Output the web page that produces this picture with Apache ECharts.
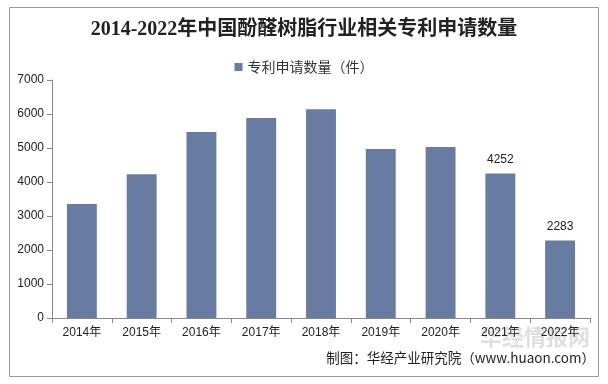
<!DOCTYPE html>
<html><head><meta charset="utf-8">
<script src="https://cdn.jsdelivr.net/npm/echarts@6/dist/echarts.min.js"></script>
<style>html,body{margin:0;padding:0;background:#fff}#c{width:608px;height:384px}</style>
</head><body><div id="c"></div>
<script>
const categories = ['2014年','2015年','2016年','2017年','2018年','2019年','2020年','2021年','2022年'];
const values = [3350, 4230, 5470, 5880, 6140, 4970, 5030, 4252, 2283];
const labelled = ['2021年','2022年'];
const seriesName = '专利申请数量（件）';

const chart = echarts.init(document.getElementById('c'));
chart.setOption({
  animation: false,
  backgroundColor: '#fff',
  title: {
    text: '2014-2022年中国酚醛树脂行业相关专利申请数量',
    left: 'center', top: 15,
    textStyle: {fontFamily: 'Liberation Serif, Noto Sans CJK SC', fontSize: 20, fontWeight: 'bold', color: '#222'}
  },
  legend: {
    data: [seriesName], top: 55, left: 'center',
    itemWidth: 8, itemHeight: 8, itemGap: 2, icon: 'rect',
    textStyle: {fontFamily: 'Noto Sans CJK SC', fontSize: 14, color: '#333'}
  },
  grid: {left: 52, right: 18, top: 80, bottom: 66},
  xAxis: {
    type: 'category', data: categories,
    axisLine: {lineStyle: {color: '#888'}},
    axisTick: {show: true, length: 5, lineStyle: {color: '#888'}},
    axisLabel: {fontFamily: 'Liberation Sans, Noto Sans CJK SC', fontSize: 12, color: '#222', margin: 9}
  },
  yAxis: {
    type: 'value', min: 0, max: 7000, interval: 1000,
    splitLine: {show: false},
    axisLine: {show: true, lineStyle: {color: '#888'}},
    axisTick: {show: true, length: 5, lineStyle: {color: '#888'}},
    axisLabel: {fontFamily: 'Liberation Sans', fontSize: 12, color: '#222', margin: 8, formatter: v => String(v)}
  },
  series: [{
    name: seriesName, type: 'bar', barWidth: '50%',
    itemStyle: {color: '#687BA0'},
    data: values.map((v, i) => ({
      value: v,
      label: {show: labelled.includes(categories[i]), position: 'top', distance: 8,
        fontFamily: 'Liberation Sans', fontSize: 12, color: '#222'}
    }))
  }],
  graphic: [
    {type: 'rect', shape: {x: 9.5, y: 7.5, width: 589, height: 369}, style: {fill: 'none', stroke: '#999', lineWidth: 1}, z: -1},
    {type: 'text', right: 18, top: 326, style: {text: '华经情报网', fontFamily: 'Noto Sans CJK SC', fontSize: 22, fontWeight: 'bold', fill: 'rgba(150,150,150,0.3)'}},
    {type: 'text', right: 13, top: 351, style: {text: '制图：华经产业研究院（www.huaon.com）', fontFamily: 'Noto Sans CJK SC', fontSize: 13.5, fill: '#222'}}
  ]
});
</script></body></html>
